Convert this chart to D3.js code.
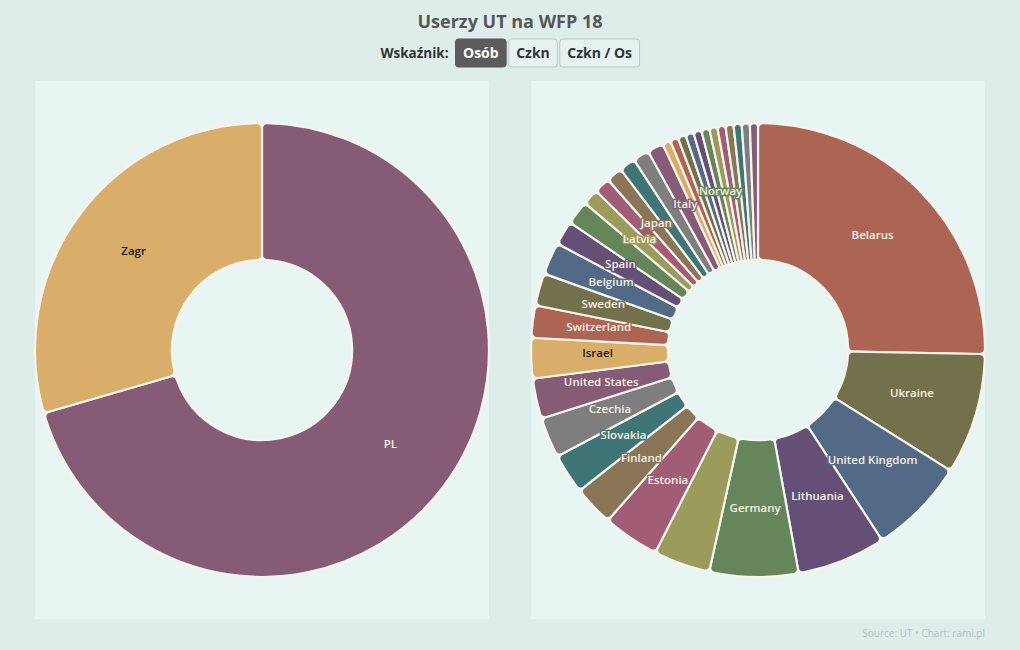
<!DOCTYPE html>
<html>
<head>
<meta charset="utf-8">
<script src="https://cdn.jsdelivr.net/npm/d3@7"></script>
<style>
  html, body { margin: 0; padding: 0; background: #dfedea; }
  svg { display: block; }
  text { font-family: "Open Sans", "Noto Sans", sans-serif; }
</style>
</head>
<body>
<svg id="chart" width="1020" height="650"></svg>
<script>
// ---- data ----
const chartTitle = "Userzy UT na WFP 18";
const controlLabel = "Wskaźnik:";
const buttonLabels = ["Osób", "Czkn", "Czkn / Os"];
const activeButton = "Osób";
const footerText = "Source: UT • Chart: rami.pl";

const leftNames = ["PL", "Zagr"];
const leftValues = [416, 174];

const rightNames = ["Belarus", "Ukraine", "United Kingdom", "Lithuania", "Germany", "",
  "Estonia", "Finland", "Slovakia", "Czechia", "United States", "Israel",
  "Switzerland", "Sweden", "Belgium", "Spain", "", "Latvia", "", "Japan", "", "",
  "Italy", "", "", "", "", "", "Norway", "", "", "", "", "", ""];
const rightValues = [44, 15, 12, 11, 11, 7, 7, 5, 5, 5, 5, 5, 4, 4, 4, 3, 3,
  2, 2, 2, 2, 2, 2, 1, 1, 1, 1, 1, 1, 1, 1, 1, 1, 1, 1];

const palette = ["#855b75", "#d9ae6a", "#ac6555", "#73714b", "#536a87", "#644f76",
  "#65865a", "#9b9c5c", "#a25d76", "#8b7558", "#407577", "#7e7e7e"];

// ---- layout ----
const W = 1020, H = 650;
const svg = d3.select("#chart");

const panels = [
  { x: 35, y: 81, w: 454, h: 538, names: leftNames, values: leftValues, prefix: "L" },
  { x: 531, y: 81, w: 454, h: 538, names: rightNames, values: rightValues, prefix: "R" }
];

// shared colour scale across both donuts
const keysL = leftNames.map((n, i) => "L" + i);
const keysR = rightNames.map((n, i) => "R" + i);
const color = d3.scaleOrdinal().domain(keysL.concat(keysR)).range(palette);

// title
svg.append("text")
  .attr("x", W / 2).attr("y", 28)
  .attr("text-anchor", "middle")
  .attr("font-size", 18).attr("font-weight", 700)
  .attr("fill", "#575757")
  .text(chartTitle);

// controls
const ctrl = svg.append("g");
const lbl = ctrl.append("text")
  .attr("y", 58).attr("font-size", 13.5).attr("font-weight", 700).attr("fill", "#333")
  .text(controlLabel);
const lblW = lbl.node().getComputedTextLength();
const btnG = ctrl.selectAll("g.btn").data(buttonLabels).join("g").attr("class", "btn");
btnG.append("rect");
btnG.append("text")
  .attr("font-size", 14).attr("font-weight", 700)
  .attr("text-anchor", "middle").attr("y", 58)
  .attr("fill", d => d === activeButton ? "#ffffff" : "#333")
  .text(d => d);
const widths = [];
btnG.each(function () { widths.push(d3.select(this).select("text").node().getComputedTextLength() + 15); });
const gapLbl = 7, gapBtn = 2.5;
const totalW = lblW + gapLbl + d3.sum(widths) + gapBtn * (widths.length - 1);
let cx0 = W / 2 - totalW / 2;
lbl.attr("x", cx0);
let bx = cx0 + lblW + gapLbl;
btnG.each(function (d, i) {
  const g = d3.select(this);
  g.select("rect")
    .attr("x", bx).attr("y", 39).attr("width", widths[i]).attr("height", 28).attr("rx", 3)
    .attr("fill", d === activeButton ? "#5b5b5b" : "#e6f2f0")
    .attr("stroke", d === activeButton ? "#5b5b5b" : "#bcc7c4").attr("stroke-width", 1);
  g.select("text").attr("x", bx + widths[i] / 2);
  bx += widths[i] + gapBtn;
});

// donuts
panels.forEach(p => {
  const g = svg.append("g");
  g.append("rect").attr("x", p.x).attr("y", p.y).attr("width", p.w).attr("height", p.h)
    .attr("fill", "#e8f5f3");
  const outer = Math.min(p.w, p.h) / 2;
  const inner = outer * 0.397;
  const data = p.values.map((v, i) => ({ key: p.prefix + i, name: p.names[i], value: v }));
  const pie = d3.pie().value(d => d.value).sort(null);
  const arcs = pie(data);
  const arc = d3.arc().innerRadius(inner).outerRadius(outer).cornerRadius(5);
  const lab = d3.arc().innerRadius(inner + 2).outerRadius(outer + 2);
  const c = g.append("g").attr("transform", `translate(${p.x + p.w / 2},${p.y + p.h / 2})`);
  c.selectAll("path").data(arcs).join("path")
    .attr("d", arc)
    .attr("fill", d => color(d.data.key))
    .attr("stroke", "#f6f4ec").attr("stroke-width", 2.2).attr("stroke-linejoin", "round");
  c.selectAll("text").data(arcs.filter(d => d.data.name)).join("text")
    .attr("transform", d => `translate(${lab.centroid(d)})`)
    .attr("text-anchor", "middle").attr("dy", "0.1em")
    .attr("font-size", 11.5).attr("font-weight", 600)
    .attr("fill", d => d3.hsl(color(d.data.key)).l > 0.6 ? "#1a1a1a" : "#f7f1e6")
    .attr("stroke", d => color(d.data.key)).attr("stroke-width", 3)
    .attr("paint-order", "stroke").attr("stroke-linejoin", "round")
    .text(d => d.data.name);
});

// footer
svg.append("text")
  .attr("x", 985).attr("y", 637).attr("text-anchor", "end")
  .attr("font-size", 10).attr("fill", "#b5c1be")
  .text(footerText);
</script>
</body>
</html>
